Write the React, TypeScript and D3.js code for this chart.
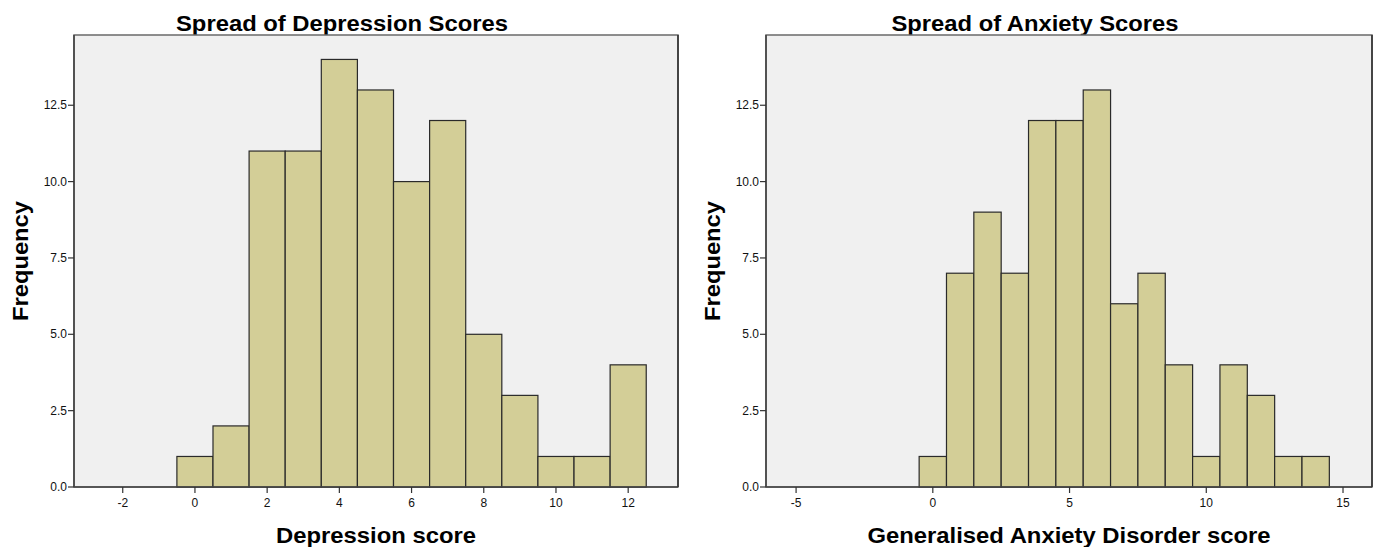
import React from "react";
import * as d3 from "d3";

const depressionBins = [0, 1, 2, 3, 4, 5, 6, 7, 8, 9, 10, 11, 12];
const depressionCounts = [1, 2, 11, 11, 14, 13, 10, 12, 5, 3, 1, 1, 4];
const depressionTicks = [-2, 0, 2, 4, 6, 8, 10, 12];

const anxietyBins = [0, 1, 2, 3, 4, 5, 6, 7, 8, 9, 10, 11, 12, 13, 14];
const anxietyCounts = [1, 7, 9, 7, 12, 12, 13, 6, 7, 4, 1, 4, 3, 1, 1];
const anxietyTicks = [-5, 0, 5, 10, 15];

const yTicks = [0, 2.5, 5, 7.5, 10, 12.5];

const W = 1379;
const H = 547;
const FONT = "'Liberation Sans', Arial, sans-serif";

type PanelProps = {
  title: string;
  titleX: number;
  titleLen: number;
  xLabel: string;
  xLabelLen: number;
  bins: number[];
  counts: number[];
  ticks: number[];
  xDomain: [number, number];
  left: number;
  right: number;
};

const TOP = 35;
const BOTTOM = 487;

function Panel(p: PanelProps) {
  const x = d3.scaleLinear().domain(p.xDomain).range([p.left, p.right]);
  const y = d3.scaleLinear().domain([0, 14.8]).range([BOTTOM, TOP]);
  const cx = (p.left + p.right) / 2;
  const cy = (TOP + BOTTOM) / 2;
  return (
    <g>
      <text
        x={p.titleX}
        y={31}
        textAnchor="middle"
        fontFamily={FONT}
        fontWeight="bold"
        fontSize={22}
        textLength={p.titleLen}
        lengthAdjust="spacingAndGlyphs"
        fill="#000"
      >
        {p.title}
      </text>
      <rect
        x={p.left}
        y={TOP}
        width={p.right - p.left}
        height={BOTTOM - TOP}
        fill="#f0f0f0"
        stroke="#6a6a6a"
        strokeWidth={1.5}
      />
      {p.bins.map((b, i) => (
        <rect
          key={i}
          x={x(b - 0.5)}
          y={y(p.counts[i])}
          width={x(b + 0.5) - x(b - 0.5)}
          height={y(0) - y(p.counts[i])}
          fill="#d3ce97"
          stroke="#2a2a2a"
          strokeWidth={1.2}
        />
      ))}
      <line x1={p.left} x2={p.left} y1={TOP} y2={BOTTOM} stroke="#444" strokeWidth={1.6} />
      <line x1={p.left} x2={p.right} y1={BOTTOM} y2={BOTTOM} stroke="#444" strokeWidth={1.6} />
      <line x1={p.right} x2={p.right} y1={TOP} y2={BOTTOM} stroke="#333" strokeWidth={1.6} />
      {yTicks.map((t) => (
        <g key={t}>
          <line x1={p.left - 6} x2={p.left} y1={y(t)} y2={y(t)} stroke="#333" strokeWidth={1.2} />
          <text
            x={p.left - 7}
            y={y(t)}
            dy="0.35em"
            textAnchor="end"
            fontFamily={FONT}
            fontSize={12}
            fill="#111"
          >
            {t.toFixed(1)}
          </text>
        </g>
      ))}
      {p.ticks.map((t) => (
        <g key={t}>
          <line x1={x(t)} x2={x(t)} y1={BOTTOM} y2={BOTTOM + 6} stroke="#333" strokeWidth={1.2} />
          <text
            x={x(t)}
            y={507}
            textAnchor="middle"
            fontFamily={FONT}
            fontSize={12}
            fill="#111"
          >
            {t}
          </text>
        </g>
      ))}
      <text
        x={cx}
        y={543}
        textAnchor="middle"
        fontFamily={FONT}
        fontWeight="bold"
        fontSize={22}
        textLength={p.xLabelLen}
        lengthAdjust="spacingAndGlyphs"
        fill="#000"
      >
        {p.xLabel}
      </text>
      <text
        transform={`translate(${p.left - 46},${cy}) rotate(-90)`}
        textAnchor="middle"
        fontFamily={FONT}
        fontWeight="bold"
        fontSize={22}
        textLength={120}
        lengthAdjust="spacingAndGlyphs"
        fill="#000"
      >
        Frequency
      </text>
    </g>
  );
}

export default function App() {
  return (
    <svg
      width={W}
      height={H}
      style={{ position: "absolute", left: 0, top: 0, background: "#fff" }}
    >
      <rect width={W} height={H} fill="#fff" />
      <Panel
        title="Spread of Depression Scores"
        titleX={342}
        titleLen={332}
        xLabel="Depression score"
        xLabelLen={200}
        bins={depressionBins}
        counts={depressionCounts}
        ticks={depressionTicks}
        xDomain={[-3.35, 13.38]}
        left={74}
        right={678}
      />
      <Panel
        title="Spread of Anxiety Scores"
        titleX={1035}
        titleLen={287}
        xLabel="Generalised Anxiety Disorder score"
        xLabelLen={403}
        bins={anxietyBins}
        counts={anxietyCounts}
        ticks={anxietyTicks}
        xDomain={[-6.1, 16.06]}
        left={766}
        right={1372}
      />
    </svg>
  );
}
